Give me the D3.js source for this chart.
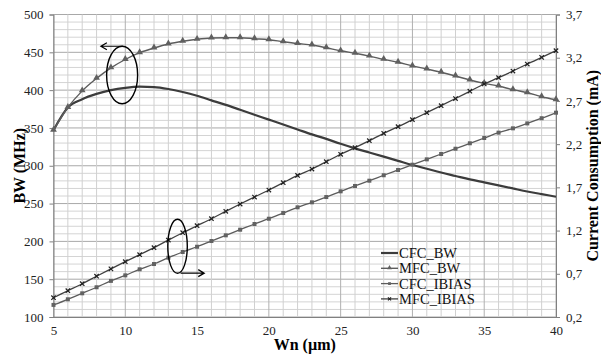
<!DOCTYPE html>
<html>
<head>
<meta charset="utf-8">
<script src="https://cdn.jsdelivr.net/npm/d3@7"></script>
<style>
  body { margin: 0; background: #fff; }
  svg, svg text { font-family: "Liberation Serif", "Times New Roman", serif !important; }
</style>
</head>
<body>
<svg id="canvas" width="601" height="356"></svg>
<script>
// Wn values (um)
let wn = d3.range(5, 41)

// bandwidth, MHz (left axis)
let cfcBW = [347, 377, 388, 395, 400, 403, 404.5, 404, 401.5, 397.5, 392.5, 386.5, 380.5, 374, 367.5, 361,
  354.5, 348, 341.5, 335.5, 329, 323, 317.5, 312, 306.5, 301, 296, 291, 286.5, 282, 278, 274, 270, 266, 262.5, 259]
let mfcBW = [347, 377, 399, 415.5, 429.5, 440.5, 449.5, 455.7, 461, 464.6, 467.2, 468.9, 469.3, 469.3, 468, 466.7,
  464, 461.6, 459.7, 456, 452, 448.7, 445, 440.7, 436.8, 432, 428, 423.6, 418.7, 413.4, 409, 405.4, 400.6, 396.6, 391.3, 387.3]

// bias current, mA (right axis)
let cfcIbias = [0.34, 0.405, 0.474, 0.544, 0.618, 0.682, 0.752, 0.813, 0.886, 0.952, 1.013, 1.079, 1.145, 1.21, 1.276, 1.337,
  1.403, 1.469, 1.527, 1.588, 1.654, 1.716, 1.777, 1.84, 1.901, 1.962, 2.024, 2.086, 2.147, 2.21, 2.271, 2.333, 2.383, 2.44, 2.5, 2.564]
let mfcIbias = [0.423, 0.504, 0.585, 0.672, 0.757, 0.84, 0.921, 1.002, 1.09, 1.175, 1.256, 1.337, 1.423, 1.507, 1.588, 1.669,
  1.754, 1.838, 1.912, 1.997, 2.083, 2.159, 2.24, 2.325, 2.402, 2.483, 2.564, 2.645, 2.728, 2.812, 2.896, 2.969, 3.046, 3.127, 3.204, 3.281]

let xTicks = [5, 10, 15, 20, 25, 30, 35, 40]
let leftTicks = [100, 150, 200, 250, 300, 350, 400, 450, 500]
let rightTicks = [0.2, 0.7, 1.2, 1.7, 2.2, 2.7, 3.2, 3.7]
let legendNames = ['CFC_BW', 'MFC_BW', 'CFC_IBIAS', 'MFC_IBIAS']

let serif = '"Liberation Serif", "Times New Roman", serif'
let canvas = d3.select('#canvas')

let margin = {top: 14.5, left: 53.5, right: 45, bottom: 39}
let width = 601 - margin.left - margin.right
let height = 356 - margin.top - margin.bottom

let x = d3.scaleLinear().domain([5, 40]).range([margin.left, margin.left + width])
let yL = d3.scaleLinear().domain([100, 500]).range([margin.top + height, margin.top])
let yR = d3.scaleLinear().domain([0.2, 3.7]).range([margin.top + height, margin.top])

// grid
let grid = canvas.append('g')
d3.range(100, 501, 10).forEach(function (v) {
  grid.append('line')
    .attr('x1', x(5)).attr('x2', x(40))
    .attr('y1', yL(v)).attr('y2', yL(v))
    .attr('stroke', v % 50 == 0 ? '#a8a8a8' : '#d4d4d4')
    .attr('stroke-width', 1)
})
wn.forEach(function (v) {
  grid.append('line')
    .attr('x1', x(v)).attr('x2', x(v))
    .attr('y1', yL(100)).attr('y2', yL(500))
    .attr('stroke', v % 5 == 0 ? '#b0b0b0' : '#d0d0d0')
    .attr('stroke-width', 1)
})

// axes
let fmtComma = function (d) { return d3.format('.1f')(d).replace('.', ',') }

let xAxis = canvas.append('g')
  .attr('transform', 'translate(0,' + yL(100) + ')')
  .call(d3.axisBottom(x).tickValues(xTicks).tickSize(0).tickPadding(9))
let lAxis = canvas.append('g')
  .attr('transform', 'translate(' + x(5) + ',0)')
  .call(d3.axisLeft(yL).tickValues(leftTicks).tickSize(4).tickPadding(6))
let rAxis = canvas.append('g')
  .attr('transform', 'translate(' + x(40) + ',0)')
  .call(d3.axisRight(yR).tickValues(rightTicks).tickFormat(fmtComma).tickSize(4).tickPadding(6))

;[xAxis, lAxis, rAxis].forEach(function (a) {
  a.attr('font-family', null)
  a.select('.domain').attr('stroke', '#808080')
  a.selectAll('.tick line').attr('stroke', '#808080')
  a.selectAll('.tick text')
    .style('font-family', serif)
    .style('font-size', '13px')
    .attr('fill', '#222')
})

// axis titles
function title(t) {
  return canvas.append('text')
    .attr('text-anchor', 'middle')
    .style('font-family', serif)
    .style('font-size', '16px')
    .style('font-weight', 'bold')
    .text(t)
}
title('BW (MHz)')
  .attr('transform', 'translate(25,' + (margin.top + height / 2) + ') rotate(-90)')
title('Current Consumption (mA)')
  .attr('transform', 'translate(598,' + (margin.top + height / 2) + ') rotate(-90)')
title('Wn (µm)')
  .attr('x', x(22.5)).attr('y', 350)

// series
let series = [
  {name: 'CFC_BW', vals: cfcBW, y: yL, color: '#3c3c3c', w: 2.2, marker: 'none'},
  {name: 'MFC_BW', vals: mfcBW, y: yL, color: '#5c5c5c', w: 1.4, marker: 'tri'},
  {name: 'CFC_IBIAS', vals: cfcIbias, y: yR, color: '#5c5c5c', w: 1.3, marker: 'sq'},
  {name: 'MFC_IBIAS', vals: mfcIbias, y: yR, color: '#404040', w: 1.3, marker: 'x'}
]

function drawMarker(g, type, cx, cy, k) {
  if (type == 'tri') {
    g.append('path')
      .attr('d', d3.symbol().type(d3.symbolTriangle).size(20 * k * k)())
      .attr('transform', 'translate(' + cx + ',' + (cy - 0.5) + ')')
      .attr('fill', '#606060')
  } else if (type == 'sq') {
    g.append('rect')
      .attr('x', cx - 2 * k).attr('y', cy - 2 * k)
      .attr('width', 4 * k).attr('height', 4 * k)
      .attr('fill', '#626262')
  } else if (type == 'x') {
    let r = 2.2 * k
    g.append('path')
      .attr('d', 'M' + (cx - r) + ',' + (cy - r) + 'L' + (cx + r) + ',' + (cy + r) +
        'M' + (cx - r) + ',' + (cy + r) + 'L' + (cx + r) + ',' + (cy - r))
      .attr('stroke', '#202020').attr('stroke-width', 1.2)
  }
}

series.forEach(function (s) {
  let line = d3.line()
    .x(function (d, i) { return x(wn[i]) })
    .y(function (d) { return s.y(d) })
    .curve(d3.curveMonotoneX)
  let g = canvas.append('g')
  g.append('path')
    .datum(s.vals)
    .attr('d', line)
    .attr('fill', 'none')
    .attr('stroke', s.color)
    .attr('stroke-width', s.w)
  s.vals.forEach(function (d, i) {
    drawMarker(g, s.marker, x(wn[i]), s.y(d), 1)
  })
})

// annotations: ellipse + arrow, in data units
let notes = [
  {cx: 9.78, cy: 420, rx: 1.08, ry: 38, ax1: 9.85, ax2: 8.3, ay: 458, dir: -1},
  {cx: 13.64, cy: 193.5, rx: 0.68, ry: 35.7, ax1: 13.85, ax2: 15.5, ay: 158, dir: 1}
]
notes.forEach(function (n) {
  let pxRx = x(n.cx + n.rx) - x(n.cx)
  let pxRy = yL(n.cy) - yL(n.cy + n.ry)
  canvas.append('ellipse')
    .attr('cx', x(n.cx)).attr('cy', yL(n.cy))
    .attr('rx', pxRx).attr('ry', pxRy)
    .attr('fill', 'none').attr('stroke', '#000').attr('stroke-width', 1.4)
  let ax = x(n.ax2), ay = yL(n.ay)
  canvas.append('path')
    .attr('d', 'M' + x(n.ax1) + ',' + ay + 'L' + ax + ',' + ay +
      'M' + (ax - n.dir * 6) + ',' + (ay - 3.5) + 'L' + ax + ',' + ay + 'L' + (ax - n.dir * 6) + ',' + (ay + 3.5))
    .attr('fill', 'none').attr('stroke', '#000').attr('stroke-width', 1.2)
})

// legend
let leg = canvas.append('g').attr('transform', 'translate(381,253)')
series.forEach(function (s, i) {
  let g = leg.append('g').attr('transform', 'translate(0,' + (i * 15.3) + ')')
  g.append('line')
    .attr('x1', 0).attr('x2', 17).attr('y1', 0).attr('y2', 0)
    .attr('stroke', s.color).attr('stroke-width', s.w)
  drawMarker(g, s.marker, 8.5, 0, 0.7)
  g.append('text')
    .attr('x', 18).attr('y', 5)
    .style('font-family', serif)
    .style('font-size', '14.5px')
    .attr('fill', '#111')
    .text(legendNames[i])
})
</script>
</body>
</html>
